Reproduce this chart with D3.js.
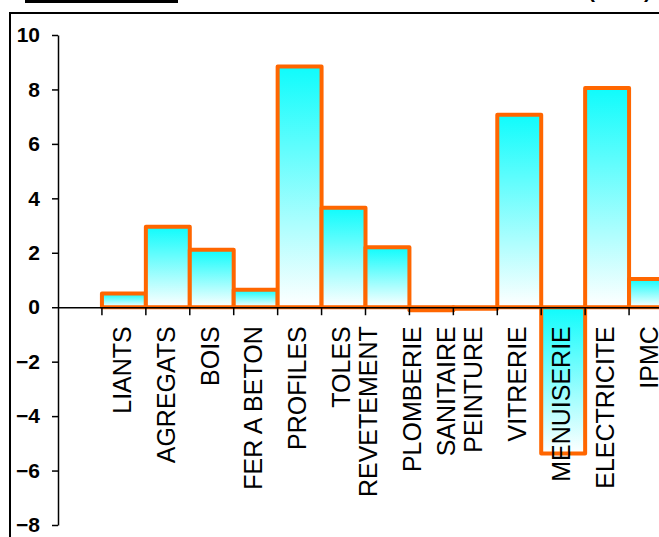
<!DOCTYPE html>
<html>
<head>
<meta charset="utf-8">
<script src="https://cdn.jsdelivr.net/npm/d3@7"></script>
<style>
  body { margin: 0; background: #fff; }
  svg { display: block; }
</style>
</head>
<body>
<div id="chart"></div>
<script>
const categories = ["", "LIANTS", "AGREGATS", "BOIS", "FER A BETON", "PROFILES", "TOLES",
	"REVETEMENT", "PLOMBERIE SANITAIRE", "PEINTURE", "VITRERIE", "MENUISERIE", "ELECTRICITE", "IPMC"];
// lines of each tick label, as in the picture (REVETEMENT keeps an empty second line)
const tickLabels = [[""], ["LIANTS"], ["AGREGATS"], ["BOIS"], ["FER A BETON"], ["PROFILES"], ["TOLES"],
	["REVETEMENT", ""], ["PLOMBERIE", "SANITAIRE"], ["PEINTURE"], ["VITRERIE"], ["MENUISERIE"], ["ELECTRICITE"], ["IPMC"]];
const values = [null, 0.5, 2.96, 2.11, 0.64, 8.84, 3.65, 2.2, -0.11, -0.06, 7.07, -5.37, 8.05, 1.04];
const yTicks = [-8, -6, -4, -2, 0, 2, 4, 6, 8, 10];

const w = 659;
const h = 537;

const svg = d3.select("#chart")
	.append("svg")
	.attr("width", w)
	.attr("height", h);

const defs = svg.append("defs");
const grad = defs.append("linearGradient")
	.attr("id", "barFill")
	.attr("x1", 0).attr("y1", 0)
	.attr("x2", 0).attr("y2", 1);
grad.append("stop").attr("offset", "0%").attr("stop-color", "#0ffcfc");
grad.append("stop").attr("offset", "100%").attr("stop-color", "#ffffff");

// frame and cut-off header bits
svg.append("rect")
	.attr("x", 10).attr("y", 13)
	.attr("width", 700).attr("height", 600)
	.attr("fill", "none")
	.attr("stroke", "#000")
	.attr("stroke-width", 2);

svg.append("rect")
	.attr("x", 25).attr("y", -3)
	.attr("width", 153).attr("height", 6)
	.attr("fill", "#000");

svg.append("text")
	.attr("x", 651).attr("y", -2.5)
	.attr("text-anchor", "end")
	.attr("font-family", "Liberation Sans, Arial, sans-serif")
	.attr("font-weight", "bold")
	.attr("font-size", "21px")
	.text("(en %)");

const x = d3.scaleBand()
	.domain(categories)
	.range([58, 673])
	.padding(0);

const y = d3.scaleLinear()
	.domain([-8, 10])
	.range([525, 35]);

const data = categories.map((c, i) => ({ cat: c, value: values[i] }))
	.filter(d => d.value !== null);

svg.append("g")
	.selectAll("rect")
	.data(data)
	.join("rect")
		.attr("x", d => x(d.cat))
		.attr("y", d => y(Math.max(0, d.value)))
		.attr("width", x.bandwidth())
		.attr("height", d => Math.abs(y(d.value) - y(0)))
		.attr("fill", "url(#barFill)")
		.attr("stroke", "#ff6600")
		.attr("stroke-width", 4)
		.attr("stroke-linejoin", "round");

// y axis
function yAxis(g) {
	g.attr("transform", "translate(58, 0)")
		.call(d3.axisLeft(y).tickValues(yTicks).tickSize(6).tickSizeOuter(0).tickPadding(12))
		.attr("font-family", "Liberation Sans, Arial, sans-serif")
		.attr("font-weight", "bold")
		.attr("font-size", "21px");
	g.selectAll("path, line").attr("stroke", "#000").attr("stroke-width", 1.5);
	g.selectAll("text").attr("fill", "#000");
}

// x axis: ticks at band edges, labels rotated
function xAxis(g) {
	g.attr("transform", `translate(0, ${y(0)})`)
		.call(d3.axisBottom(x).tickSize(0).tickSizeOuter(0).tickFormat(""));
	g.select(".domain").attr("stroke", "#000").attr("stroke-width", 1.5);
	g.selectAll(".tick text").remove();

	g.selectAll(".edge")
		.data(categories.slice(1))
		.join("line")
		.attr("class", "edge")
		.attr("x1", d => x(d)).attr("x2", d => x(d))
		.attr("y1", 0).attr("y2", 8)
		.attr("stroke", "#000")
		.attr("stroke-width", 1.5);

	g.selectAll(".tick").each(function (d, i) {
		const lines = tickLabels[i];
		const t = d3.select(this).append("text")
			.attr("transform", "rotate(-90)")
			.attr("text-anchor", "end")
			.attr("fill", "#000")
			.attr("font-family", "Liberation Sans, Arial, sans-serif")
			.attr("font-size", "25px");
		lines.forEach((ln, k) => {
			t.append("tspan")
				.attr("x", -19)
				.attr("y", (k - (lines.length - 1) / 2) * 34.5 - 2)
				.attr("dy", "0.35em")
				.text(ln);
		});
	});
}

svg.append("g").call(xAxis);
svg.append("g").call(yAxis);
</script>
</body>
</html>
